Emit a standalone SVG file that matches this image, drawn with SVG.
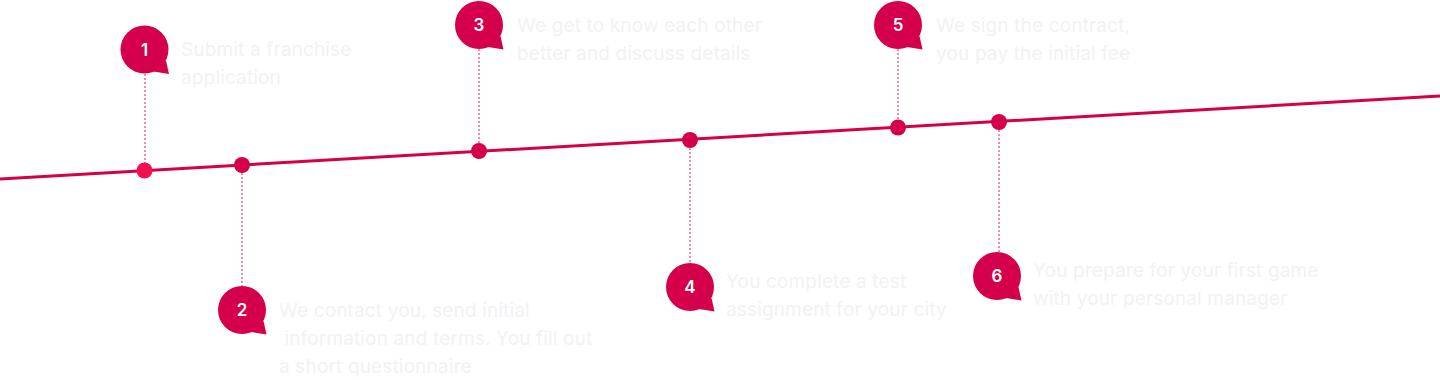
<svg xmlns="http://www.w3.org/2000/svg" width="1440" height="380" viewBox="0 0 1440 380">
<style>
.txt{font-family:Inter,"Open Sans","Liberation Sans",sans-serif;font-size:19px;letter-spacing:0.15px;fill:#f1f2f4;}
.num{font-family:Inter,"Open Sans","Liberation Sans",sans-serif;font-size:17px;font-weight:600;fill:#ffffff;text-anchor:middle;}
.bub{fill:#d5004b;}
.dot{fill:#d5004b;}
.lead{stroke:#f4658f;stroke-width:1.5;stroke-dasharray:2 2;fill:none;}
</style>
<defs>
<g id="bubble">
<circle cx="0" cy="0" r="24" class="bub"/>
<polygon points="9,22 24.5,24.5 21.5,11" class="bub"/>
</g>
</defs>
<g id="connectors">
<line x1="0" y1="179" x2="1440" y2="96" stroke="#d5004b" stroke-width="3"/>
<line class="lead" x1="145" y1="74" x2="145" y2="170"/>
<line class="lead" x1="242" y1="165" x2="242" y2="286"/>
<line class="lead" x1="479" y1="49" x2="479" y2="151"/>
<line class="lead" x1="690" y1="140" x2="690" y2="263"/>
<line class="lead" x1="898" y1="49" x2="898" y2="127"/>
<line class="lead" x1="999" y1="122" x2="999" y2="252"/>
</g>
<g id="node1">
<circle cx="144.5" cy="170.5" r="8" fill="#f2104f"/>
<use href="#bubble" x="144.5" y="49.5"/>
<text class="num" x="144.5" y="55.5">1</text>
<text class="txt" x="181"><tspan x="181" y="56">Submit a franchise</tspan><tspan x="181" y="84">application</tspan></text>
</g>
<g id="node2">
<circle cx="242" cy="165" r="8" class="dot"/>
<use href="#bubble" x="242" y="310"/>
<text class="num" x="242" y="316">2</text>
<text class="txt" xml:space="preserve"><tspan x="279" y="317">We contact you, send initial</tspan><tspan x="279" y="345"> information and terms. You fill out</tspan><tspan x="279" y="373">a short questionnaire</tspan></text>
</g>
<g id="node3">
<circle cx="479" cy="151" r="8" class="dot"/>
<use href="#bubble" x="479" y="25"/>
<text class="num" x="479" y="31">3</text>
<text class="txt"><tspan x="517" y="32">We get to know each other</tspan><tspan x="517" y="60">better and discuss details</tspan></text>
</g>
<g id="node4">
<circle cx="690" cy="140" r="8" class="dot"/>
<use href="#bubble" x="690" y="287"/>
<text class="num" x="690" y="293">4</text>
<text class="txt"><tspan x="726" y="288">You complete a test</tspan><tspan x="726" y="316">assignment for your city</tspan></text>
</g>
<g id="node5">
<circle cx="898" cy="127.5" r="8" class="dot"/>
<use href="#bubble" x="898" y="25"/>
<text class="num" x="898" y="31">5</text>
<text class="txt"><tspan x="936" y="32">We sign the contract,</tspan><tspan x="936" y="60">you pay the initial fee</tspan></text>
</g>
<g id="node6">
<circle cx="999" cy="122" r="8" class="dot"/>
<use href="#bubble" x="997" y="276"/>
<text class="num" x="997" y="282">6</text>
<text class="txt"><tspan x="1033" y="277">You prepare for your first game</tspan><tspan x="1033" y="305">with your personal manager</tspan></text>
</g>
</svg>
